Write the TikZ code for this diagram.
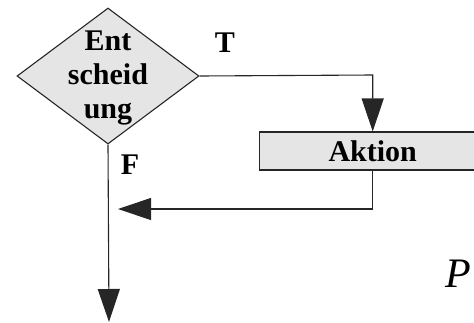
\documentclass[tikz,border=0pt]{standalone}
\usepackage{fontspec}
\setmainfont{Liberation Serif}
\usetikzlibrary{shapes.geometric,arrows.meta}
\begin{document}
\begin{tikzpicture}[x=1pt,y=-1pt,
  line/.style={draw=black!85,line width=1.1pt},
  arr/.style={line,-{Triangle[length=33pt,width=22pt]}},
  decision/.style={diamond,draw=black!85,fill=black!10,line width=1.1pt,
    minimum width=182pt,minimum height=136pt,inner sep=0pt},
  actionbox/.style={rectangle,draw=black!85,fill=black!10,line width=1.1pt,
    minimum width=227pt,minimum height=38pt,inner sep=0pt},
  btext/.style={font=\fontsize{30}{34}\selectfont\bfseries,align=center,inner sep=0pt},
  ptext/.style={font=\fontsize{42}{42}\selectfont\itshape,inner sep=0pt}]
\useasboundingbox (0,0) rectangle (474,322);
\clip (0,0) rectangle (474,322);
% decision diamond and its text
\node[decision] (d) at (108,76) {};
\node[btext] (dt) at (108,78) {Ent\\scheid\\ung};
% action box, running past the right edge
\node[actionbox] (a) at (372.7,151) {};
\node[btext] (at) at (372.7,151) {Aktion};
% branch labels
\node[btext] (t) at (225,43) {T};
\node[btext] (f) at (130,165) {F};
\node[ptext,anchor=west] (p) at (445,274) {P};
% connector points
\coordinate (tc) at (372.7,75);
\coordinate (bc) at (372.7,209);
\coordinate (ret) at (118,209);
\coordinate (out) at (109,322);
% connectors
\draw[arr] (d.east) -- (tc) -- (a.north);
\draw[arr] (a.south) -- (bc) -- (ret);
\draw[arr] (d.south) -- (out);
\end{tikzpicture}
\end{document}
